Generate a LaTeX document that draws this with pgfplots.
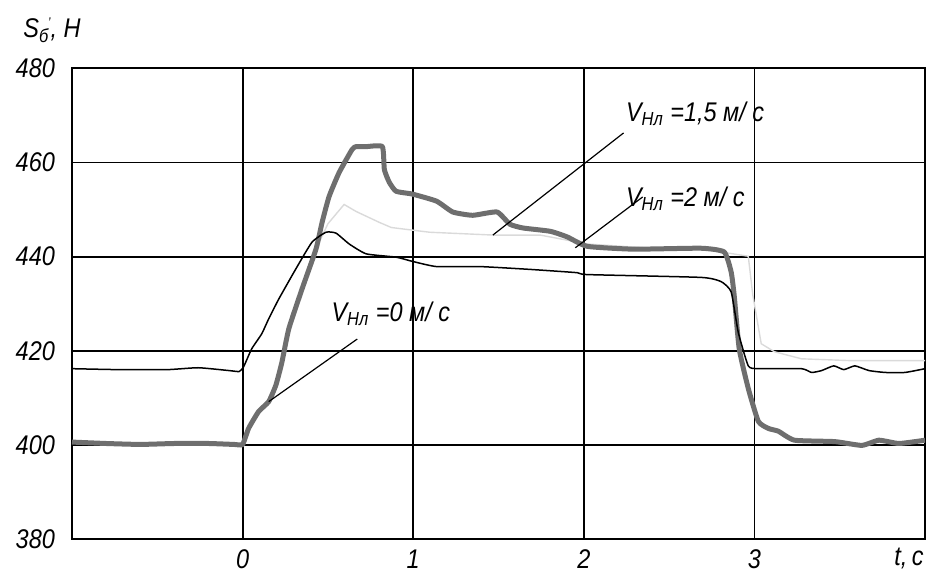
\documentclass[border=0pt]{standalone}
\usepackage{fontspec}
\setmainfont{Liberation Sans}[FakeStretch=0.87]
\usepackage{pgfplots}
\pgfplotsset{compat=1.18}
\definecolor{thickgray}{RGB}{110,110,110}
\definecolor{lightgray}{RGB}{218,218,218}
\newcommand{\lab}{\fontsize{13.5}{15}\selectfont\itshape}
\newcommand{\tclabel}{\textit{t,\,c}}
\begin{document}
\begin{tikzpicture}
\begin{axis}[
  name=ax,
  scale only axis,
  width=426.5pt, height=235.25pt,
  xmin=-1, xmax=4, ymin=380, ymax=480,
  xtick={0,1,2,3}, ytick={380,400,420,440,460,480},
  major tick length=0pt,
  grid=major,
  major grid style={black, line width=0.9pt},
  axis line style={black, line width=1pt},
  /pgf/number format/assume math mode=true,
  ticklabel style={font=\lab},
  yticklabel style={xshift=-5pt},
  xticklabel style={yshift=-2pt},
  clip=true,
]
% V = 1.5 m/s (light)
\addplot[lightgray, line width=0.7pt] coordinates {
(0.43,441.6) (0.5,447.0) (0.595,451.1) (0.666,449.6) (0.801,447.3) (0.872,446.2)
(1.096,445.2) (1.467,444.6) (1.744,444.6) (2.021,442.7) (2.392,441.8) (2.7,441.6)
(2.964,440.1) (2.99,432) (3.04,421.5) (3.117,419.8) (3.276,418.3) (3.571,417.9) (4.0,417.9)
};
% V = 0 m/s (thick)
\addplot[thickgray, line width=2.5pt, line join=round, smooth, tension=0.3] coordinates {
(-1,400.6) (-0.8,400.3) (-0.6,400.1) (-0.4,400.3) (-0.2,400.3) (-0.05,400.1) (0,400.1)
(0.035,403.5) (0.094,407.1) (0.153,409.2) (0.195,412.7) (0.23,417.5) (0.271,424.7)
(0.348,433.1) (0.43,441.6) (0.466,447.3) (0.507,452.8) (0.566,457.9) (0.642,462.8)
(0.666,463.4) (0.725,463.4) (0.819,463.4) (0.831,458.5) (0.86,455.8) (0.9,453.9)
(0.996,453.3) (1.137,451.8) (1.232,449.5) (1.349,448.8) (1.491,449.5) (1.567,446.9)
(1.644,446.1) (1.803,445.4) (1.903,444.2) (2.021,442.2) (2.292,441.6) (2.687,441.8)
(2.823,441.0) (2.864,436.7) (2.882,431.6) (2.911,420.4) (2.964,412.0) (3.023,405.0)
(3.082,403.5) (3.141,402.9) (3.235,401.0) (3.471,400.7) (3.63,399.9) (3.73,401.0)
(3.848,400.3) (4.0,401.0)
};
% V = 2 m/s (thin)
\addplot[black, line width=0.75pt, line join=round, smooth, tension=0.3] coordinates {
(-1,416.2) (-0.73,416.0) (-0.44,416.0) (-0.26,416.4) (-0.08,415.8) (-0.02,415.6)
(0.006,416.6) (0.053,420.4) (0.112,423.6) (0.153,426.8) (0.212,431.0) (0.312,437.4)
(0.407,443.1) (0.489,445.2) (0.548,445.0) (0.625,442.7) (0.725,440.6) (0.9,439.9)
(0.996,439.0) (1.137,437.9) (1.391,437.9) (1.685,437.3) (1.962,436.6) (2.021,436.2)
(2.687,435.6) (2.805,434.7) (2.864,432.5) (2.905,424.0) (2.964,416.8) (3.023,416.2)
(3.276,416.2) (3.335,415.4) (3.394,415.8) (3.465,416.8) (3.524,416.0) (3.589,416.8)
(3.671,415.8) (3.765,415.4) (3.883,415.4) (4.0,416.2)
};
% leaders
\draw[black, line width=0.6pt] (axis cs:0.672,422.5) -- (axis cs:0.153,409.2);
\draw[black, line width=0.6pt] (axis cs:2.233,466.3) -- (axis cs:1.467,444.6);
\draw[black, line width=0.6pt] (axis cs:2.345,452.7) -- (axis cs:1.95,441.9);
% labels
\node[anchor=base west, inner sep=0pt, font=\lab] at (axis cs:0.519,426.3)
  {V\textsubscript{Нл} =0 м/ с};
\node[anchor=base west, inner sep=0pt, font=\lab] at (axis cs:2.245,468.7)
  {V\textsubscript{Нл} =1,5 м/ с};
\node[anchor=base west, inner sep=0pt, font=\lab] at (axis cs:2.245,450.7)
  {V\textsubscript{Нл} =2 м/ с};
\end{axis}
\node[anchor=base, inner sep=0pt, font=\lab] at ([xshift=-8pt,yshift=-13pt]ax.south east) {\tclabel};
\node[anchor=base west, inner sep=0pt, font=\lab] at ([xshift=-24.5pt,yshift=15.25pt]ax.north west)
  {S\textsubscript{б}\kern-0.05em\raisebox{0.75ex}{\scriptsize '}, H};
\pgfresetboundingbox
\path[use as bounding box] ([xshift=-36pt,yshift=-17pt]ax.south west) rectangle ([xshift=2pt,yshift=34.25pt]ax.north east);
\end{tikzpicture}
\end{document}
